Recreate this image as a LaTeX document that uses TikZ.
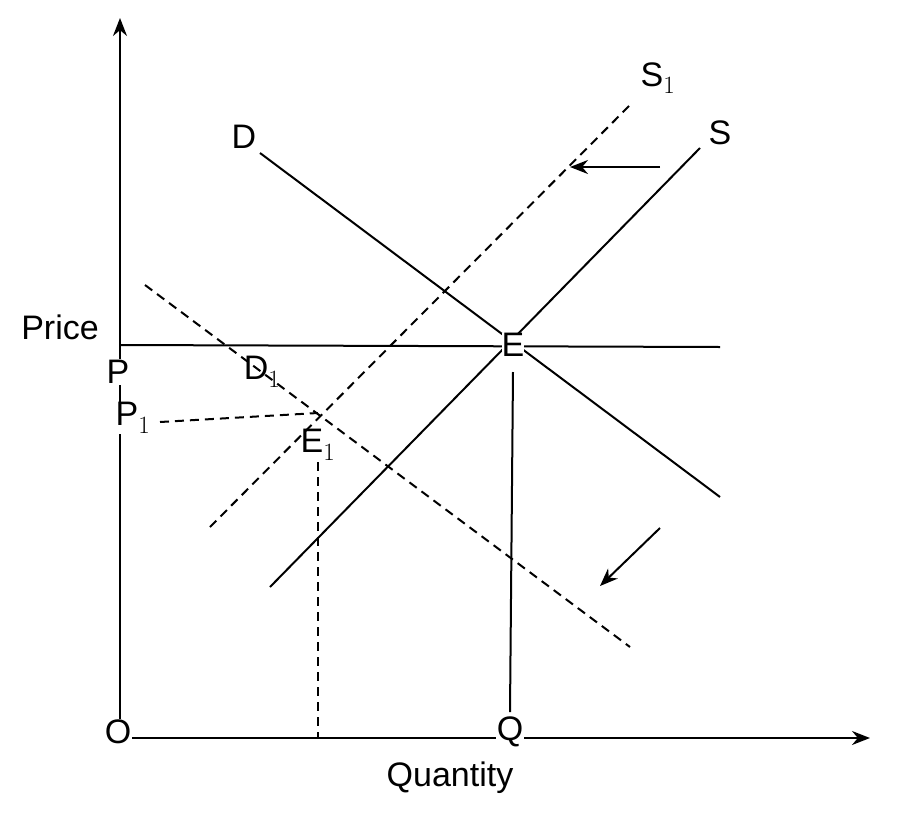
\documentclass[tikz,border=0pt]{standalone}
\usepackage{fontspec}
\setmainfont{Liberation Sans}
\usetikzlibrary{arrows.meta}
\begin{document}
\begin{tikzpicture}[x=1pt,y=-1pt,line width=2pt,
  lab/.style={inner sep=1pt,font=\fontsize{34}{38}\selectfont},
  dsh/.style={dash pattern=on 9pt off 6pt},
  arr/.style={-{Stealth[length=18pt,width=14pt]}}]
\useasboundingbox (0,0) rectangle (898,828);
\coordinate (yb) at (120,738); \coordinate (yt) at (120,18);
\coordinate (xr) at (870,738);
\draw[arr] (yb) -- (yt);
\draw[arr] (yb) -- (xr);
\coordinate (p0) at (120,345); \coordinate (p1) at (720,347);
\draw (p0) -- (p1);
\coordinate (d0) at (260,153); \coordinate (d1) at (720,497);
\draw (d0) -- (d1);
\coordinate (s0) at (270,587); \coordinate (s1) at (700,148);
\draw (s0) -- (s1);
\coordinate (q0) at (513,372); \coordinate (q1) at (510,712);
\draw (q0) -- (q1);
\coordinate (a0) at (210,527); \coordinate (a1) at (632,103);
\draw[dsh] (a0) -- (a1);
\coordinate (b0) at (145,285); \coordinate (b1) at (630,647);
\draw[dsh] (b0) -- (b1);
\coordinate (e1) at (318,413); \coordinate (pp) at (160,422);
\draw[dsh] (pp) -- (e1);
\coordinate (v0) at (318,462); \coordinate (v1) at (318,738);
\draw[dsh] (v0) -- (v1);
\coordinate (m0) at (660,167); \coordinate (m1) at (570,167);
\draw[arr] (m0) -- (m1);
\coordinate (n0) at (660,528); \coordinate (n1) at (600,586);
\draw[arr] (n0) -- (n1);
\node[lab,fill=white] (O) at (118,732) {O};
\node[lab,fill=white] (Q) at (510,732) {Q};
\node[lab] (qt) at (450,778) {Quantity};
\node[lab] (pr) at (60,327) {Price};
\node[lab,fill=white] (P) at (118,372) {P};
\node[lab,fill=white] (P1) at (133,418) {P$_1$};
\node[lab,fill=white,inner sep=0pt] (E) at (513,345) {E};
\node[lab] (E1) at (318,445) {E$_1$};
\node[lab] (D) at (244,137) {D};
\node[lab] (Dl) at (262,372) {D$_1$};
\node[lab] (S) at (720,133) {S};
\node[lab] (Sl) at (658,78) {S$_1$};
\end{tikzpicture}
\end{document}
